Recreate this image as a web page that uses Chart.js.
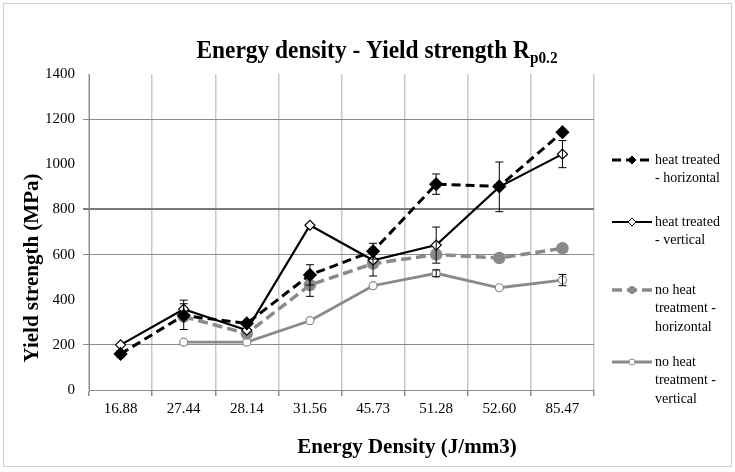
<!DOCTYPE html>
<html>
<head>
<meta charset="utf-8">
<script src="https://cdn.jsdelivr.net/npm/chart.js@4.4.1/dist/chart.umd.min.js"></script>
<style>
  html, body { margin: 0; padding: 0; background: #fff; }
  #wrap { width: 735px; height: 472px; position: relative; }
</style>
</head>
<body>
<div id="wrap"><canvas id="myChart"></canvas></div>
<script>
// energy density categories (J/mm3)
const energy = ['16.88', '27.44', '28.14', '31.56', '45.73', '51.28', '52.60', '85.47'];

// yield strength Rp0.2 (MPa)
const heatH = [160, 330, 295, 510, 615, 912, 902, 1142];
const heatV = [200, 358, 265, 730, 575, 642, 900, 1045];
const noHeatH = [null, 325, 250, 465, 560, 600, 585, 628];
const noHeatV = [null, 212, 212, 307, 462, 517, 453, 487];

// error bar half widths (MPa)
const heatHErr = [15, null, null, 45, 35, 45, null, null];
const heatVErr = [null, 40, null, null, null, 80, 110, 60];
const noHeatHErr = [null, 57, null, 50, 55, null, null, null];
const noHeatVErr = [null, null, null, null, null, 15, null, 25];

const legendText = [
  ['heat treated', '- horizontal'],
  ['heat treated', '- vertical'],
  ['no heat', 'treatment -', 'horizontal'],
  ['no heat', 'treatment -', 'vertical']
];
const legendY = [160, 222, 290, 362];

const black = '#000000';
const grey = '#8a8a8a';
const serif = '"Liberation Serif", "Times New Roman", serif';

const errorBars = {
  id: 'errorBars',
  afterDatasetsDraw(chart) {
    const ctx = chart.ctx;
    const y = chart.scales.y;
    ctx.save();
    ctx.strokeStyle = '#000';
    ctx.lineWidth = 1;
    chart.data.datasets.forEach((ds, i) => {
      const meta = chart.getDatasetMeta(i);
      ds.err.forEach((e, j) => {
        if (e == null || ds.data[j] == null) return;
        const px = meta.data[j].x;
        const top = y.getPixelForValue(ds.data[j] + e);
        const bot = y.getPixelForValue(ds.data[j] - e);
        ctx.beginPath();
        ctx.moveTo(px, top); ctx.lineTo(px, bot);
        ctx.moveTo(px - 4, top); ctx.lineTo(px + 4, top);
        ctx.moveTo(px - 4, bot); ctx.lineTo(px + 4, bot);
        ctx.stroke();
      });
    });
    ctx.restore();
  }
};

const texts = {
  id: 'texts',
  afterDraw(chart) {
    const ctx = chart.ctx;
    ctx.save();
    // outer frame
    ctx.strokeStyle = '#d0d0d0';
    ctx.lineWidth = 1;
    ctx.strokeRect(3.5, 3.5, 728, 463);

    // title with subscript
    ctx.fillStyle = '#000';
    ctx.textBaseline = 'alphabetic';
    const main = 'Energy density - Yield strength R';
    ctx.font = 'bold 26px ' + serif;
    const w1 = ctx.measureText(main).width;
    ctx.font = 'bold 17px ' + serif;
    const w2 = ctx.measureText('p0.2').width;
    const sx = 0.9;
    const start = 377 - (w1 + w2) * sx / 2;
    ctx.save();
    ctx.translate(start, 58);
    ctx.scale(sx, 1);
    ctx.font = 'bold 26px ' + serif;
    ctx.fillText(main, 0, 0);
    ctx.font = 'bold 17px ' + serif;
    ctx.fillText('p0.2', w1, 5);
    ctx.restore();

    // axis titles
    ctx.font = 'bold 21px ' + serif;
    ctx.textAlign = 'center';
    ctx.textBaseline = 'middle';
    ctx.fillText('Energy Density (J/mm3)', 407, 448);
    ctx.save();
    ctx.translate(33, 268);
    ctx.rotate(-Math.PI / 2);
    ctx.fillText('Yield strength (MPa)', 0, 0);
    ctx.restore();

    // legend
    ctx.textAlign = 'left';
    ctx.font = '14px ' + serif;
    chart.data.datasets.forEach((ds, i) => {
      const ly = legendY[i];
      ctx.save();
      ctx.strokeStyle = ds.borderColor;
      ctx.lineWidth = ds.borderWidth;
      ctx.setLineDash(ds.borderDash || []);
      ctx.beginPath();
      ctx.moveTo(612, ly); ctx.lineTo(652, ly);
      ctx.stroke();
      ctx.setLineDash([]);
      ctx.fillStyle = ds.pointBackgroundColor;
      ctx.strokeStyle = ds.pointBorderColor;
      ctx.lineWidth = 1;
      Chart.helpers.drawPoint(ctx, { pointStyle: ds.pointStyle, radius: ds.pointRadius - 1, borderWidth: 1 }, 632, ly);
      ctx.restore();
      ctx.fillStyle = '#000';
      legendText[i].forEach((t, k) => ctx.fillText(t, 655, ly + k * 18.5));
    });
    ctx.restore();
  }
};

const gridColor = (ctx) => {
  const v = ctx.tick && ctx.tick.value;
  if (v === 800) return '#7a7a7a';
  if (v === 1200 || v === 600 || v === 200) return '#8c8c8c';
  return 'rgba(0,0,0,0)';
};

new Chart(document.getElementById('myChart'), {
  type: 'line',
  data: {
    labels: energy,
    datasets: [{
      label: 'heat treated - horizontal',
      data: heatH,
      err: heatHErr,
      borderColor: black,
      borderWidth: 3,
      borderDash: [9, 5],
      pointStyle: 'rectRot',
      pointRadius: 5,
      pointBackgroundColor: black,
      pointBorderColor: black
    }, {
      label: 'heat treated - vertical',
      data: heatV,
      err: heatVErr,
      borderColor: black,
      borderWidth: 2.2,
      pointStyle: 'rectRot',
      pointRadius: 5,
      pointBackgroundColor: '#fff',
      pointBorderColor: black,
      pointBorderWidth: 1.2
    }, {
      label: 'no heat treatment - horizontal',
      data: noHeatH,
      err: noHeatHErr,
      borderColor: grey,
      borderWidth: 3.5,
      borderDash: [10, 5],
      pointStyle: 'circle',
      pointRadius: 4.5,
      pointBackgroundColor: grey,
      pointBorderColor: grey
    }, {
      label: 'no heat treatment - vertical',
      data: noHeatV,
      err: noHeatVErr,
      borderColor: grey,
      borderWidth: 2.8,
      pointStyle: 'circle',
      pointRadius: 4,
      pointBackgroundColor: '#fff',
      pointBorderColor: grey,
      pointBorderWidth: 1.2
    }]
  },
  options: {
    responsive: true,
    maintainAspectRatio: false,
    animation: false,
    layout: { padding: { left: 0, right: 141, top: 74, bottom: 0 } },
    plugins: {
      legend: { display: false },
      tooltip: { enabled: false }
    },
    scales: {
      x: {
        offset: true,
        afterFit: (s) => { s.height = 82; },
        grid: { offset: true, color: '#c8c8c8', lineWidth: 1.5, tickLength: 6, tickColor: '#8c8c8c' },
        border: { color: '#8c8c8c' },
        ticks: { color: '#000', padding: 4, font: { family: serif, size: 15 } }
      },
      y: {
        min: 0,
        max: 1400,
        afterFit: (s) => { s.width = 89; },
        grid: { color: gridColor, lineWidth: (c) => (c.tick && c.tick.value === 800 ? 2 : 1), tickLength: 6 },
        border: { color: '#8c8c8c' },
        ticks: { stepSize: 200, color: '#000', padding: 8, font: { family: serif, size: 15 },
          callback: (v) => String(v) }
      }
    }
  },
  plugins: [errorBars, texts]
});
</script>
</body>
</html>
